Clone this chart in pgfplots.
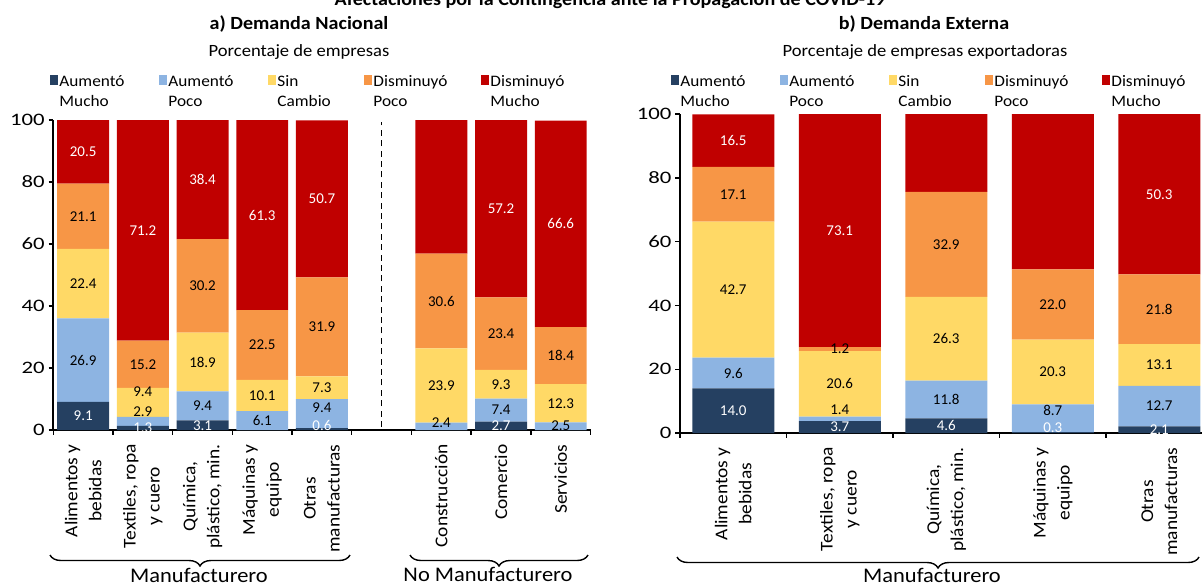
\documentclass[border=0pt]{standalone}
\usepackage{fontspec}
\setmainfont{Carlito}[FakeStretch=1.08]
\newfontfamily\plainfont{Carlito}
\newfontfamily\tickfont{Carlito}[FakeStretch=1.3]
\usepackage{pgfplots}
\pgfplotsset{compat=1.18}
\usepackage{pgfplotstable}
\usetikzlibrary{decorations.pathreplacing}

\definecolor{cAM}{HTML}{254061}
\definecolor{cAP}{HTML}{8DB4E2}
\definecolor{cSC}{HTML}{FFD966}
\definecolor{cDP}{HTML}{F79646}
\definecolor{cDM}{HTML}{C00000}

\newcommand\labf{\plainfont\fontsize{7.5}{9}\selectfont}
\newcommand\tickf{\tickfont\fontsize{8.75}{10}\selectfont}
\newcommand\legf{\fontsize{8}{10}\selectfont}
\newcommand\catf{\fontsize{9}{12}\selectfont}
\newcommand\titf{\bfseries\fontsize{9.3}{11}\selectfont}
\newcommand\subf{\fontsize{8.6}{10}\selectfont}
\newcommand\grpf{\fontsize{10.4}{12}\selectfont}

% Demanda Nacional: x am ap sc dp dm + label offsets
\pgfplotstableread{
x am ap sc dp dm amo apo sco z
0 9.1 26.9 22.4 21.1 20.5 0 0 0 0
1 1.3 2.9 9.4 15.2 71.2 0 3.2 3.5 0
2 3.1 9.4 18.9 30.2 38.4 0 0 0 0
3 0 6.1 10.1 22.5 61.3 0 0 0 0
4 0.6 9.4 7.3 31.9 50.7 1.3 1.8 0 0
6 0 2.4 23.9 30.6 43.2 0 1.2 0 0
7 2.7 7.4 9.3 23.4 57.2 0 0 0 0
8 0 2.5 12.3 18.4 66.6 0 0 0 0
}\tabA

% Demanda Externa
\pgfplotstableread{
x am ap sc dp dm amo apo sco z
0 14.0 9.6 42.7 17.1 16.5 0 0 0 0
1 3.7 1.4 20.6 1.2 73.1 0 2.8 0 0
2 4.6 11.8 26.3 32.9 24.5 0 0 0 0
3 0.3 8.7 20.3 22.0 48.8 1.45 2.5 0 0
4 2.1 12.7 13.1 21.8 50.3 0 0 0 0
}\tabB

\pgfplotsset{
  seg/.style n args={4}{%
    fill=#3, draw=none,
    visualization depends on={\thisrow{#1} \as \rawy},
    visualization depends on={\thisrow{#2} \as \sh},
    nodes near coords={\pgfmathparse{\rawy>0.001}\ifnum\pgfmathresult=1 \pgfmathprintnumber[fixed,fixed zerofill,precision=1]{\rawy}\fi},
    every node near coord/.style={anchor=center, text=#4, font=\labf, inner sep=0pt, shift={(axis direction cs:0,\sh)}},
  },
  common/.style={
    scale only axis, ybar stacked, enlargelimits=false,
    ymin=0, ymax=100, ytick={0,20,...,100},
    axis lines*=left, axis line style={-, black, line width=0.8pt},
    tick align=outside, major tick length=2.3pt,
    tick style={black, line width=0.7pt},
    /pgf/number format/assume math mode=true,
    yticklabel style={font=\tickf, xshift=1.5pt},
    xticklabels={},
    extra x tick style={major tick length=0pt, xticklabel style={rotate=90, anchor=east, align=center, font=\catf, inner xsep=7pt}},
    legend columns=5,
    legend style={draw=none, fill=none, inner sep=0pt, font=\legf,
      cells={align=left, anchor=north west},
      nodes={inner sep=0.5pt, text width=42pt},
      /tikz/every odd column/.append style={column sep=0pt},
      /tikz/column 2/.append style={column sep=7.5pt},
      /tikz/column 4/.append style={column sep=7.5pt},
      /tikz/column 6/.append style={column sep=1pt},
      /tikz/column 8/.append style={column sep=11.5pt}},
    legend image code/.code={\path[fill=none,draw=none] (0pt,-5.5pt) rectangle (4pt,6.4pt); \fill[##1] (0pt,-5.2pt) rectangle (4pt,-0.6pt);},
  },
}

\begin{document}
\begin{tikzpicture}
\path[use as bounding box] (0,0) rectangle (601pt,293pt);

\node[font=\titf, anchor=base] at (305pt,290.5pt) {Afectaciones por la Contingencia ante la Propagación de COVID-19};
\node[font=\titf, anchor=base] at (149.5pt,278.5pt) {a) Demanda Nacional};
\node[font=\subf, anchor=base] at (149.5pt,264.6pt) {Porcentaje de empresas};
\node[font=\titf, anchor=base] at (462pt,278.5pt) {b) Demanda Externa};
\node[font=\subf, anchor=base] at (462.5pt,264.6pt) {Porcentaje de empresas exportadoras};

% ---------- a) Demanda Nacional ----------
\begin{axis}[common,
  at={(26.65pt,78pt)}, anchor=south west,
  width=268.65pt, height=155pt,
  bar width=0.87,
  xmin=-0.5, xmax=8.5,
  xtick={-0.5,0.5,...,8.5},
  extra x ticks={0,1,2,3,4,6,7,8},
  extra x tick labels={{Alimentos y\\bebidas},{Textiles, ropa\\y cuero},{Química,\\plástico, min.},{Máquinas y\\equipo},{Otras\\manufacturas},{Construcción},{Comercio},{Servicios}},
  legend style={at={(-0.0061,1.1903)}, anchor=north west},
]
\addplot[seg={am}{amo}{cAM}{white}] table[x=x,y=am]{\tabA};
\addplot[seg={ap}{apo}{cAP}{black}] table[x=x,y=ap]{\tabA};
\addplot[seg={sc}{sco}{cSC}{black}] table[x=x,y=sc]{\tabA};
\addplot[seg={dp}{z}{cDP}{black}] table[x=x,y=dp]{\tabA};
\addplot[seg={dm}{z}{cDM}{white}] table[x=x,y=dm]{\tabA};
\legend{Aumentó\\Mucho, Aumentó\\Poco, Sin\\Cambio, Disminuyó\\Poco, Disminuyó\\Mucho}
\draw[black, line width=0.7pt, dash pattern=on 3pt off 2.2pt] (axis cs:5,1) -- (axis cs:5,99.5);
\end{axis}

% ---------- b) Demanda Externa ----------
\begin{axis}[common,
  at={(340pt,76.5pt)}, anchor=south west,
  width=266.25pt, height=159.5pt,
  bar width=0.77,
  xmin=-0.5, xmax=4.5,
  xtick={-0.5,0.5,...,4.5},
  extra x ticks={0,1,2,3,4},
  extra x tick labels={{Alimentos y\\bebidas},{Textiles, ropa\\y cuero},{Química,\\plástico, min.},{Máquinas y\\equipo},{Otras\\manufacturas}},
  legend style={at={(-0.0169,1.1662)}, anchor=north west},
]
\addplot[seg={am}{amo}{cAM}{white}] table[x=x,y=am]{\tabB};
\addplot[seg={ap}{apo}{cAP}{black}] table[x=x,y=ap]{\tabB};
\addplot[seg={sc}{sco}{cSC}{black}] table[x=x,y=sc]{\tabB};
\addplot[seg={dp}{z}{cDP}{black}] table[x=x,y=dp]{\tabB};
\addplot[seg={dm}{z}{cDM}{white}] table[x=x,y=dm]{\tabB};
\legend{Aumentó\\Mucho, Aumentó\\Poco, Sin\\Cambio, Disminuyó\\Poco, Disminuyó\\Mucho}
\end{axis}

% group braces and labels
\draw[line width=0.7pt, decorate, decoration={brace, amplitude=5.5pt}] (175pt,15.5pt) -- (25pt,15.5pt);
\node[font=\grpf, anchor=base] at (99.5pt,2pt) {Manufacturero};
\draw[line width=0.7pt, decorate, decoration={brace, amplitude=5.5pt}] (294pt,15.5pt) -- (205pt,15.5pt);
\node[font=\grpf, anchor=base] at (244pt,2.5pt) {No Manufacturero};
\draw[line width=0.7pt, decorate, decoration={brace, amplitude=5.5pt}] (599.5pt,14.5pt) -- (338.5pt,14.5pt);
\node[font=\grpf, anchor=base] at (466pt,2pt) {Manufacturero};
\end{tikzpicture}
\end{document}
